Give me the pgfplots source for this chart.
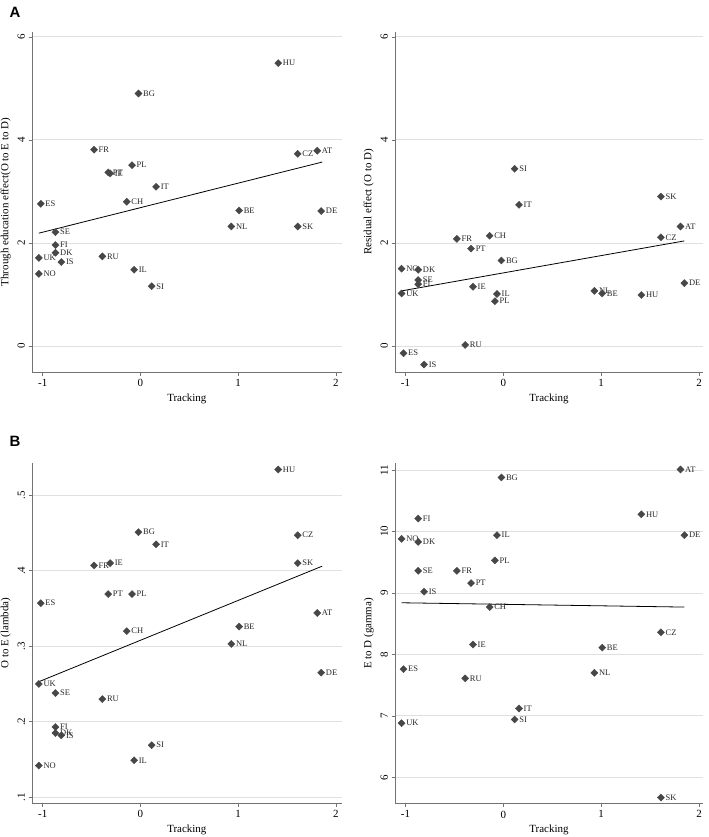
\documentclass[border=0pt]{standalone}
\usepackage{pgfplots}
\pgfplotsset{compat=1.18}
\usepackage{pgfplotstable}
\usepackage{fontspec}
\setmainfont{Liberation Serif}
\newfontfamily\panelfont{Liberation Sans}

% country, tracking, through-education, residual, lambda, gamma
\pgfplotstableread{
cc trk thru resid lambda gamma
UK -1.04 1.71 1.02 0.250 6.88
NO -1.04 1.40 1.50 0.142 9.88
ES -1.02 2.76 -0.14 0.357 7.76
SE -0.87 2.21 1.28 0.238 9.36
FI -0.87 1.96 1.20 0.193 10.21
DK -0.87 1.81 1.48 0.185 9.83
IS -0.81 1.63 -0.36 0.182 9.02
FR -0.475 3.81 2.08 0.407 9.36
RU -0.39 1.74 0.02 0.230 7.61
PT -0.33 3.37 1.89 0.369 9.16
IE -0.31 3.35 1.15 0.410 8.16
CH -0.14 2.80 2.14 0.320 8.77
PL -0.086 3.51 0.87 0.369 9.53
IL -0.065 1.48 1.01 0.149 9.94
BG -0.02 4.90 1.66 0.451 10.88
SI 0.115 1.16 3.44 0.169 6.94
IT 0.16 3.09 2.74 0.435 7.12
NL 0.93 2.32 1.07 0.303 7.70
BE 1.01 2.63 1.02 0.326 8.11
HU 1.41 5.49 0.99 0.534 10.28
CZ 1.61 3.73 2.11 0.447 8.36
SK 1.61 2.32 2.90 0.410 5.67
AT 1.81 3.79 2.32 0.344 11.01
DE 1.85 2.62 1.22 0.265 9.94
}\data

\pgfplotsset{
  stata/.style={
    scale only axis, anchor=south west,
    axis x line*=bottom, axis y line*=left,
    axis line style={-, draw=black!55, line width=0.7bp},
    tick align=outside, major tick length=3.5bp,
    tick style={draw=black!55, line width=0.6bp},
    ymajorgrids, grid style={draw=black!12, line width=0.8bp},
    xtick={-1,0,1,2}, xticklabels={-1,0,1,2},
    yticklabel style={rotate=90, anchor=south},
    ticklabel style={font=\fontsize{11}{12}\selectfont},
    label style={font=\fontsize{11}{12}\selectfont},
    xlabel={Tracking},
    clip=false,
    /pgf/number format/assume math mode=true,
  },
  pts/.style={only marks, mark=square*, mark size=2.5bp,
    mark options={rotate=45, fill=black!72, draw=black!72},
    point meta=explicit symbolic, nodes near coords,
    nodes near coords style={anchor=west, inner sep=0pt, xshift=4.5bp,
      font=\fontsize{8.5}{9}\selectfont, text=black!85}},
  fit/.style={black, line width=0.8bp},
}

\begin{document}
\begin{tikzpicture}
\useasboundingbox (0,0) rectangle (709bp,837bp);

\node[anchor=north west, font=\fontsize{15}{15}\selectfont\panelfont\bfseries] at (6bp,833bp) {A};
\node[anchor=north west, font=\fontsize{15}{15}\selectfont\panelfont\bfseries] at (6bp,404bp) {B};

\begin{axis}[stata, at={(32bp,464.7bp)}, width=309.7bp, height=340.6bp,
  xmin=-1.11, xmax=2.06, ymin=-0.51, ymax=6.1, ytick={0,2,4,6},
  ylabel={Through education effect(O to E to D)}]
  \addplot[pts] table[x=trk, y=thru, meta=cc] {\data};
  \addplot[fit] coordinates {(-1.04,2.19) (1.86,3.57)};
\end{axis}

\begin{axis}[stata, at={(395bp,464.7bp)}, width=308bp, height=340.6bp,
  xmin=-1.107, xmax=2.04, ymin=-0.51, ymax=6.1, ytick={0,2,4,6},
  ylabel={Residual effect (O to D)}]
  \addplot[pts] table[x=trk, y=resid, meta=cc] {\data};
  \addplot[fit] coordinates {(-1.04,1.07) (1.85,2.04)};
\end{axis}

\begin{axis}[stata, at={(32bp,33.7bp)}, width=309.7bp, height=340.6bp,
  xmin=-1.11, xmax=2.06, ymin=0.092, ymax=0.543,
  ytick={0.1,0.2,0.3,0.4,0.5}, yticklabels={.1,.2,.3,.4,.5},
  ylabel={O to E (lambda)}]
  \addplot[pts] table[x=trk, y=lambda, meta=cc] {\data};
  \addplot[fit] coordinates {(-1.04,0.253) (1.86,0.406)};
\end{axis}

\begin{axis}[stata, at={(395bp,33.3bp)}, width=308bp, height=340.4bp,
  xmin=-1.107, xmax=2.04, ymin=5.57, ymax=11.11, ytick={6,7,8,9,10,11},
  ylabel={E to D (gamma)}]
  \addplot[pts] table[x=trk, y=gamma, meta=cc] {\data};
  \addplot[fit] coordinates {(-1.04,8.84) (1.85,8.77)};
\end{axis}
\end{tikzpicture}
\end{document}
